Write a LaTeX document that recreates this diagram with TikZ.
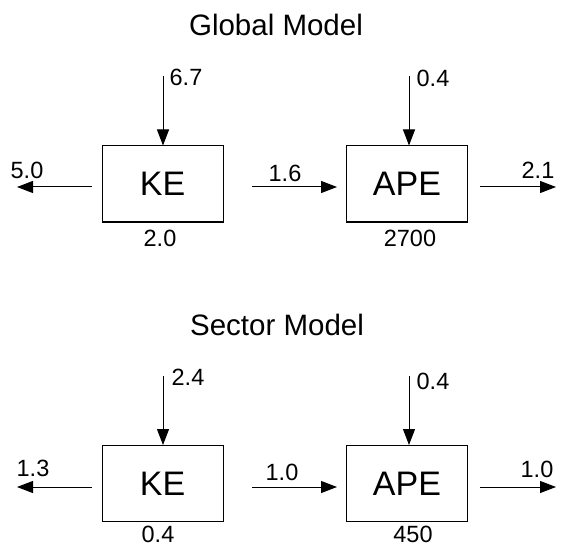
\documentclass[tikz,border=0pt]{standalone}
\usepackage{fontspec}
\setmainfont{Liberation Sans}
\usetikzlibrary{arrows.meta}
\tikzset{
  EnergyBox/.style={draw, line width=1pt, minimum width=121pt, minimum height=76pt,
    inner sep=0pt, font=\fontsize{34}{36}\selectfont},
  Flow/.style={line width=1pt, -{Triangle[length=16pt,width=12pt]}},
  FlowValue/.style={font=\fontsize{23.5}{25}\selectfont, inner sep=0pt},
  ModelTitle/.style={font=\fontsize{29.5}{31}\selectfont, inner sep=0pt}
}

\begin{document}
\begin{tikzpicture}[x=1pt,y=-1pt]
\useasboundingbox (0,0) rectangle (562,548);

% Modelo global
\node[ModelTitle] (GTitle) at (276,25) {Global Model};
\node[EnergyBox] (GKE) at (162.5,184) {KE};
\node[EnergyBox] (GAPE) at (407,184) {APE};

\coordinate (GKEin) at (163,76);
\coordinate (GKEout) at (17,187);
\coordinate (GKEleft) at (92,187);
\coordinate (GConvStart) at (252,187);
\coordinate (GConvEnd) at (337,187);
\coordinate (GAPEin) at (409,76);
\coordinate (GAPEright) at (480,187);
\coordinate (GAPEout) at (556,187);

\draw[Flow] (GKEin) -- (GKEin |- GKE.north);
\draw[Flow] (GKEleft) -- (GKEout);
\draw[Flow] (GConvStart) -- (GConvEnd);
\draw[Flow] (GAPEin) -- (GAPEin |- GAPE.north);
\draw[Flow] (GAPEright) -- (GAPEout);

\node[FlowValue] (GKEinVal) at (186,77) {6.7};
\node[FlowValue] (GKEoutVal) at (27,170) {5.0};
\node[FlowValue] (GConvVal) at (285,173) {1.6};
\node[FlowValue] (GAPEinVal) at (433,78) {0.4};
\node[FlowValue] (GAPEoutVal) at (538,170) {2.1};
\node[FlowValue] (GKEval) at (160,238) {2.0};
\node[FlowValue] (GAPEval) at (410,238) {2700};

% Modelo de sector
\node[ModelTitle] (STitle) at (277,325) {Sector Model};
\node[EnergyBox] (SKE) at (162.5,483.5) {KE};
\node[EnergyBox] (SAPE) at (407,483.5) {APE};

\coordinate (SKEin) at (163,376);
\coordinate (SKEout) at (17,487);
\coordinate (SKEleft) at (92,487);
\coordinate (SConvStart) at (252,487);
\coordinate (SConvEnd) at (337,487);
\coordinate (SAPEin) at (409,376);
\coordinate (SAPEright) at (480,487);
\coordinate (SAPEout) at (556,487);

\draw[Flow] (SKEin) -- (SKEin |- SKE.north);
\draw[Flow] (SKEleft) -- (SKEout);
\draw[Flow] (SConvStart) -- (SConvEnd);
\draw[Flow] (SAPEin) -- (SAPEin |- SAPE.north);
\draw[Flow] (SAPEright) -- (SAPEout);

\node[FlowValue] (SKEinVal) at (188,377) {2.4};
\node[FlowValue] (SKEoutVal) at (33,468) {1.3};
\node[FlowValue] (SConvVal) at (282,472) {1.0};
\node[FlowValue] (SAPEinVal) at (433,381) {0.4};
\node[FlowValue] (SAPEoutVal) at (537,469) {1.0};
\node[FlowValue] (SKEval) at (158,534) {0.4};
\node[FlowValue] (SAPEval) at (413,534) {450};

\end{tikzpicture}
\end{document}
